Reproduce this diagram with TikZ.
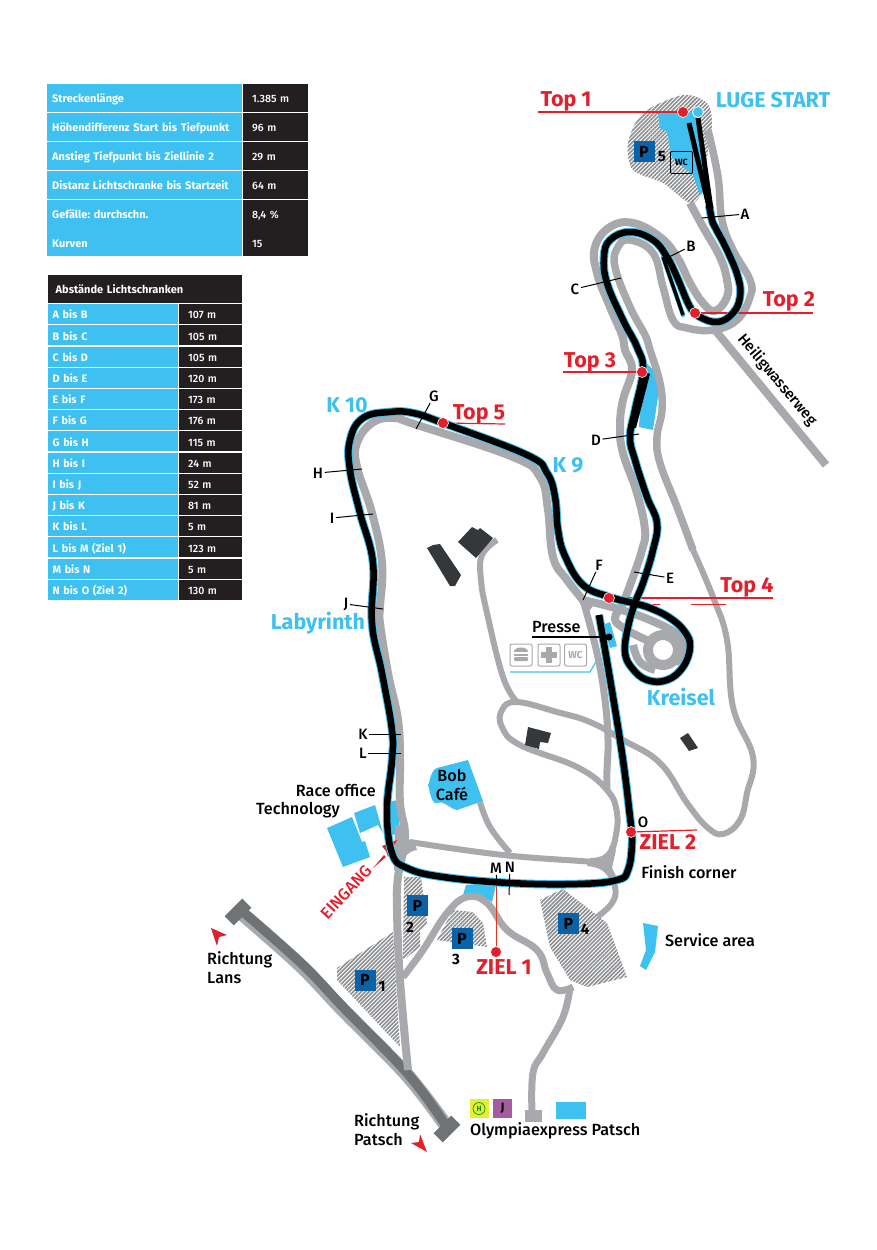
\documentclass[tikz,border=0pt]{standalone}
\usepackage{fontspec}
\usetikzlibrary{patterns.meta}
\setmainfont{Fira Sans}
\newfontfamily\medfont{Fira Sans Medium}
\newlength{\du}
\setlength{\du}{1pt}
\definecolor{lugeblue}{HTML}{3EC1F0}
\definecolor{tabblack}{HTML}{231F20}
\definecolor{roadgrey}{HTML}{A7A9AC}
\definecolor{hatchgrey}{HTML}{8A8C8F}
\definecolor{darkhouse}{HTML}{35383A}
\definecolor{highway}{HTML}{6F7375}
\definecolor{signred}{HTML}{E2202C}
\definecolor{parkblue}{HTML}{0A62A9}
\definecolor{trainpurple}{HTML}{A65AA0}
\definecolor{busyellow}{HTML}{E9EC36}
\tikzset{
  road/.style={draw=roadgrey,line width=8\du,line join=round},
  sideroad/.style={draw=roadgrey,line width=6\du,line join=round},
  hatched/.style={pattern={Lines[angle=45,distance=2.8pt,line width=1.6pt]},pattern color=hatchgrey},
  bluezone/.style={fill=lugeblue},
  house/.style={fill=darkhouse},
  leader/.style={draw=black,line width=1\du},
  redline/.style={draw=signred,line width=2.4\du},
  reddot/.style={circle,fill=signred,draw=white,line width=.6\du,minimum size=11\du,inner sep=0pt},
  cellname/.style={fill=lugeblue,text=white,anchor=north west,font=\fontsize{11}{12}\selectfont\bfseries,inner xsep=5\du,inner ysep=0pt,text width=185\du,minimum height=28\du,text height=10\du,text depth=.5\du},
  cellval/.style={fill=tabblack,text=white,anchor=north west,font=\fontsize{10.6}{12}\selectfont\medfont,inner xsep=9\du,inner ysep=0pt,text width=47\du,minimum height=28\du,text height=10\du,text depth=.5\du},
  gapname/.style={cellname,text width=120.5\du,minimum height=20\du,inner xsep=5\du,font=\fontsize{10.8}{12}\selectfont\bfseries},
  gapval/.style={cellval,text width=45\du,minimum height=20\du},
  redtext/.style={text=signred,font=\fontsize{21.5}{23}\selectfont\bfseries,inner sep=1\du},
  bluetext/.style={text=lugeblue,font=\fontsize{21.5}{23}\selectfont\bfseries,inner sep=1\du},
  letter/.style={text=black,font=\fontsize{15}{17}\selectfont\medfont,inner sep=1.5\du},
  plain/.style={text=black,font=\fontsize{16.2}{19}\selectfont\medfont,inner sep=0pt},
  parknum/.style={text=black,font=\fontsize{15}{17}\selectfont\bfseries,inner sep=0pt},
  parking/.style={fill=parkblue,text=black,minimum size=21\du,inner sep=0pt,font=\fontsize{16}{18}\selectfont\bfseries},
  sideicon/.style={draw=roadgrey,line width=1\du,rounded corners=2\du,minimum size=22\du,inner sep=0pt,text=roadgrey,font=\fontsize{10}{12}\selectfont\bfseries},
  stub/.style={fill=highway,rotate=45,minimum width=25\du,minimum height=13\du,inner sep=0pt},
}
\begin{document}
\begin{tikzpicture}[x=\du,y=-\du]
\useasboundingbox (0,0) rectangle (877,1250);
% tables
\node[cellname] (lena) at (47,84) {Streckenlänge};
\node[cellval] (vala) at (243,84) {1.385 m};
\node[cellname] (lenb) at (47,112.8) {Höhendifferenz Start bis Tiefpunkt};
\node[cellval] (valb) at (243,112.8) {96 m};
\node[cellname] (lenc) at (47,141.7) {Anstieg Tiefpunkt bis Ziellinie 2};
\node[cellval] (valc) at (243,141.7) {29 m};
\node[cellname] (lend) at (47,170.5) {Distanz Lichtschranke bis Startzeit};
\node[cellval] (vald) at (243,170.5) {64 m};
\node[cellname] (lene) at (47,199.3) {Gefälle:\ durchschn.};
\node[cellval] (vale) at (243,199.3) {8,4 \%};
\node[cellname] (lenf) at (47,228.2) {Kurven};
\node[cellval] (valf) at (243,228.2) {15};
\node[cellname,fill=tabblack,text width=178.5\du,inner xsep=8\du,minimum height=28\du] (gaphead) at (47.5,275) {Abstände Lichtschranken};
\node[gapname] (gapa) at (47.5,304) {A bis B};
\node[gapval] (gapva) at (179,304) {107 m};
\node[gapname] (gapb) at (47.5,325.2) {B bis C};
\node[gapval] (gapvb) at (179,325.2) {105 m};
\node[gapname] (gapc) at (47.5,346.4) {C bis D};
\node[gapval] (gapvc) at (179,346.4) {105 m};
\node[gapname] (gapd) at (47.5,367.6) {D bis E};
\node[gapval] (gapvd) at (179,367.6) {120 m};
\node[gapname] (gape) at (47.5,388.8) {E bis F};
\node[gapval] (gapve) at (179,388.8) {173 m};
\node[gapname] (gapf) at (47.5,410) {F bis G};
\node[gapval] (gapvf) at (179,410) {176 m};
\node[gapname] (gapg) at (47.5,431.2) {G bis H};
\node[gapval] (gapvg) at (179,431.2) {115 m};
\node[gapname] (gaph) at (47.5,452.4) {H bis I};
\node[gapval] (gapvh) at (179,452.4) {24 m};
\node[gapname] (gapi) at (47.5,473.6) {I bis J};
\node[gapval] (gapvi) at (179,473.6) {52 m};
\node[gapname] (gapj) at (47.5,494.8) {J bis K};
\node[gapval] (gapvj) at (179,494.8) {81 m};
\node[gapname] (gapk) at (47.5,516) {K bis L};
\node[gapval] (gapvk) at (179,516) {5 m};
\node[gapname] (gapl) at (47.5,537.2) {L bis M (Ziel 1)};
\node[gapval] (gapvl) at (179,537.2) {123 m};
\node[gapname] (gapm) at (47.5,558.4) {M bis N};
\node[gapval] (gapvm) at (179,558.4) {5 m};
\node[gapname] (gapn) at (47.5,579.6) {N bis O (Ziel 2)};
\node[gapval] (gapvn) at (179,579.6) {130 m};
% parking areas
\fill[hatched] plot[smooth cycle,tension=.5] coordinates {(683,95) (707,103) (712,123) (708,150) (703,190) (690,203) (663,183) (633,170) (628,143) (643,113)};
\fill[hatched] (393,932)--(337,968)--(337,980)--(400,1047)--(396,985)--cycle;
\fill[hatched] (404,877)--(421,877)--(427,923)--(420,930)--(420,947)--(403,960)--cycle;
\fill[hatched] (453,910)--(473,912)--(483,923)--(487,947)--(437,940)--cycle;
\fill[hatched] (540,900)--(563,889)--(607,923)--(627,977)--(587,987)--(570,980)--(550,947)--cycle;
% blue zones
\fill[bluezone] (658,113)--(700,112)--(705,190)--(700,195)--(693,175)--(672,158)--(667,132)--(660,128)--cycle;
\fill[bluezone] (643,360)--(661,377)--(653,430)--(639,427)--cycle;
\fill[bluezone] (603,625)--(610,622)--(617,646)--(610,648)--cycle;
\fill[bluezone] (466,885)--(496,885)--(492,902)--(480,895)--(463,895)--cycle;
\fill[bluezone] (468,760)--(483,801)--(457,810) to[out=170,in=20] (437,803) to[out=200,in=90] (428,785) to[out=-90,in=190] (437,768)--cycle;
\fill[bluezone] (327,828)--(352,817)--(362,842)--(365,841)--(370,857)--(343,867)--cycle;
\fill[bluezone] (354,813)--(375,805)--(383,833)--(378,825)--(360,833)--cycle;
\fill[bluezone] (388,802)--(398,800)--(400,834)--(390,835)--cycle;
\fill[bluezone] (643,923)--(658,926)--(655,952)--(646,970)--(640,966)--(646,950)--cycle;
\fill[bluezone] (556,1102) rectangle (586,1119);
\draw[lugeblue,line width=1.2\du] (510,672)--(590,672)--(597,660);
% highway
\draw[roadgrey,line width=14\du] plot[smooth,tension=.6] coordinates {(240,912) (300,965) (343,1010) (407,1075) (447,1127)};
\draw[highway,line width=9.5\du] plot[smooth,tension=.6] coordinates {(241.5,910.5) (301.5,963.5) (344.5,1008.5) (408,1074) (447,1127)};
\node[stub] (laneend) at (238,912) {};
\node[stub] (patschend) at (447,1129) {};
% roads
\fill[roadgrey] (401,825) .. controls (403,835) and (407,840) .. (414,841) -- (417,850) .. controls (408,851) and (402,858) .. (400,870) -- (394,870) -- (395,825) -- cycle;
\fill[roadgrey] (590,858) .. controls (600,858) and (608,855) .. (610,845) -- (616,850) -- (612,868) -- (618,880) -- (610,880) .. controls (605,870) and (598,867) .. (587,866) -- cycle;
\fill[roadgrey] (573,590)--(596,602)--(586,615)--cycle;
\draw[road] plot[smooth,tension=.7] coordinates {(690,203) (703,227) (720,257) (727,280) (727,297) (715,311) (703,303) (690,283) (677,257) (660,237) (633,223) (610,227) (595,247) (597,273) (610,307) (622,335) (625,350) (632,370) (623,400) (620,427) (623,453) (637,493) (645,530) (642,550) (633,577) (623,603) (615,618) (622,627) (640,637) (652,642)};
\draw[road,line width=7.5\du] plot[smooth,tension=.7] coordinates {(708,130) (718,177) (722,220) (733,250) (750,280) (750,297) (737,320) (713,330) (687,328) (673,320) (663,287) (653,253) (630,240) (618,247) (615,267) (630,307) (645,335) (650,350) (660,383) (662,410) (657,437) (660,463) (677,507) (693,550)};
\draw[sideroad] plot[smooth,tension=.7] coordinates {(693,550) (713,597) (727,640) (733,707) (753,757) (747,793) (740,820) (723,834) (707,827) (687,803) (660,763) (623,740) (590,722) (557,712) (517,702) (502,710) (502,727) (520,745) (577,767) (607,790) (617,813) (615,840) (608,860)};
\draw[road] plot[smooth,tension=.7] coordinates {(583,600) (567,580) (553,557) (548,510) (540,477) (513,457) (417,425) (393,418) (372,423) (357,443) (357,467) (372,513) (382,563) (380,607) (380,623) (388,673) (398,720) (400,760) (400,803) (405,837) (398,877) (397,910) (400,980) (408,1070)};
\draw[sideroad,line width=7\du] plot[smooth,tension=.7] coordinates {(583,600) (597,653) (605,700) (608,740) (607,770) (607,790)};
\draw[sideroad] plot[smooth,tension=.7] coordinates {(410,842) (503,855) (593,862) (605,865) (615,887) (612,903) (597,917)};
\draw[road] plot[smooth,tension=.7] coordinates {(583,600) (615,608) (650,620) (678,635) (684,650) (675,663)};
\draw[road,line width=10\du] (663,650) circle (15);
\draw[road] plot[smooth,tension=.7] coordinates {(633,645) (640,662) (655,670)};
\draw[sideroad] plot[smooth,tension=.7] coordinates {(497,540) (482,555) (481,580) (487,613) (503,677) (517,702)};
\draw[sideroad] plot[smooth,tension=.7] coordinates {(480,802) (490,827) (510,853)};
\draw[sideroad,line width=7\du] plot[smooth,tension=.7] coordinates {(403,977) (423,950) (447,913) (467,897) (487,903) (507,930) (537,950) (547,973) (557,990) (573,987)};
\draw[sideroad,line width=7\du] plot[smooth,tension=.7] coordinates {(570,987) (563,1017) (543,1053) (533,1073) (532,1113)};
\draw[road] (715,330)--(826,465);
\fill[roadgrey] (525,1110) rectangle (542,1122);
% houses
\fill[house] (427,548)--(433,545)--(440,544)--(461,575)--(455,586)--(450,586)--cycle;
\fill[house] (458,542)--(472,527)--(478,530)--(480,528)--(493,538)--(476,558)--cycle;
\fill[house] (528,727)--(551,733)--(548,743)--(540,742)--(539,749)--(525,745)--cycle;
\fill[house] (688,733)--(698,748)--(689,751)--(680,738)--cycle;
% red markers, under the track
\coordinate (topone) at (683,112);
\coordinate (toponeend) at (538,112);
\coordinate (toptwo) at (695,313);
\coordinate (toptwoend) at (813,313);
\coordinate (topthree) at (642,372);
\coordinate (topthreeend) at (563,372);
\coordinate (topfour) at (609,598);
\coordinate (topfourend) at (773,598);
\coordinate (topfive) at (443,423);
\coordinate (topfiveend) at (505,424);
\coordinate (zielone) at (496,952);
\coordinate (zielonetop) at (496,875);
\coordinate (zieltwo) at (631,832);
\coordinate (zieltwoend) at (697,830);
\draw[redline] (topone) -- (toponeend);
\draw[redline] (toptwo) -- (toptwoend);
\draw[redline] (topthree) -- (topthreeend);
\draw[redline] (topfour) -- (topfourend);
\draw[signred,line width=1\du] (637,604) -- (660,604);
\draw[signred,line width=1\du] (691,604) -- (726,604);
\draw[redline,line width=1.2\du] (topfive) -- (topfiveend);
\draw[signred!80!orange,line width=1\du] (zielone) -- (zielonetop);
\draw[redline,line width=1.2\du] (zieltwo) -- (zieltwoend);
\fill[signred] (373,868)--(384,855)--(386,857)--cycle;
\fill[signred] (382,846)--(397,840)--(388,857)--(386,851)--cycle;
% track
\draw[lugeblue,line width=4.5\du,line cap=round] (663,257)--(683,315);
\draw[lugeblue,line width=8.5\du,line join=round] plot[smooth,tension=.7] coordinates {(709,205) (712,220) (715,227) (727,250) (738,277) (740,297) (733,313) (718,322) (700,317) (690,307) (677,277) (667,257) (653,240) (630,232) (610,240) (604,257) (607,283) (623,320) (637,347) (643,370) (635,410) (630,437) (635,460) (647,497) (657,523) (653,550) (643,583) (635,603) (628,627) (625,652) (632,668) (647,680) (667,680) (683,667) (690,647) (685,632) (670,618) (650,608) (633,603) (610,597) (583,585) (565,556) (558,530) (555,497) (547,473) (527,455) (443,423) (413,413) (390,412) (363,418) (350,440) (350,470) (360,513) (373,563) (372,623) (382,673) (392,730) (392,760) (387,810) (392,853) (407,868) (443,877) (510,883) (577,884) (617,880) (628,870) (632,843) (630,817) (620,740) (599,615)};
\draw[black,line width=6.5\du,line join=round] plot[smooth,tension=.7] coordinates {(709,205) (712,220) (715,227) (727,250) (738,277) (740,297) (733,313) (718,322) (700,317) (690,307) (677,277) (667,257) (653,240) (630,232) (610,240) (604,257) (607,283) (623,320) (637,347) (643,370) (635,410) (630,437) (635,460) (647,497) (657,523) (653,550) (643,583) (635,603) (628,627) (625,652) (632,668) (647,680) (667,680) (683,667) (690,647) (685,632) (670,618) (650,608) (633,603) (610,597) (583,585) (565,556) (558,530) (555,497) (547,473) (527,455) (443,423) (413,413) (390,412) (363,418) (350,440) (350,470) (360,513) (373,563) (372,623) (382,673) (392,730) (392,760) (387,810) (392,853) (407,868) (443,877) (510,883) (577,884) (617,880) (628,870) (632,843) (630,817) (620,740) (599,615)};
\draw[black,line width=5\du] (689,123)--(709,207);
\draw[black,line width=5\du] (698,118)--(711,209);
\draw[black,line width=3.5\du] (663,257)--(683,315);
\fill[black] (645,372)--(650,374)--(636,428)--(630,428)--cycle;
\node[reddot] (dotone) at (topone) {};
\node[circle,fill=lugeblue,draw=white,line width=.8\du,minimum size=11\du,inner sep=0pt] (startdot) at (698,112) {};
\node[reddot] (dottwo) at (toptwo) {};
\node[reddot] (dotthree) at (topthree) {};
\node[reddot] (dotfour) at (topfour) {};
\node[reddot] (dotfive) at (topfive) {};
\node[reddot] (dotziela) at (zielone) {};
\node[reddot] (dotzielb) at (zieltwo) {};
\node[circle,fill=black,minimum size=7\du,inner sep=0pt] (pressedot) at (609,637) {};
% red and blue texts
\node[redtext] (lbltopa) at (566,101) {Top 1};
\node[redtext] (lbltopb) at (789,301) {Top 2};
\node[redtext] (lbltopc) at (590,362) {Top 3};
\node[redtext] (lbltopd) at (747,587) {Top 4};
\node[redtext] (lbltope) at (479,414) {Top 5};
\node[redtext] (lblziela) at (504,967) {ZIEL 1};
\node[redtext] (lblzielb) at (668,842) {ZIEL 2};
\node[redtext,rotate=47,font=\fontsize{16.5}{18}\selectfont\medfont] (lbleingang) at (346,892) {EINGANG};
\node[bluetext] (lblstart) at (773,100) {LUGE START};
\node[bluetext] (lblkten) at (347,405) {K 10};
\node[bluetext] (lblknine) at (568,465) {K 9};
\node[bluetext] (lbllaby) at (318,623) {Labyrinth};
\node[bluetext] (lblkreisel) at (681,697) {Kreisel};
% letters and their lines
\node[letter] (lbla) at (745,214) {A};
\coordinate (pta) at (702,218);
\draw[leader] (lbla) -- (pta);
\node[letter] (lblb) at (691,246) {B};
\coordinate (ptb) at (667,258);
\draw[leader] (lblb) -- (ptb);
\node[letter] (lblc) at (575,289) {C};
\coordinate (ptc) at (621,278);
\draw[leader] (lblc) -- (ptc);
\node[letter] (lbld) at (596,440) {D};
\coordinate (ptd) at (639,434);
\draw[leader] (lbld) -- (ptd);
\node[letter] (lble) at (670,578) {E};
\coordinate (pte) at (634,572);
\draw[leader] (lble) -- (pte);
\node[letter] (lblf) at (599,565) {F};
\coordinate (ptf) at (583,600);
\draw[leader] (lblf) -- (ptf);
\node[letter] (lblg) at (434,396) {G};
\coordinate (ptg) at (416,429);
\draw[leader] (lblg) -- (ptg);
\node[letter] (lblh) at (318,473) {H};
\coordinate (pth) at (362,469);
\draw[leader] (lblh) -- (pth);
\node[letter] (lbli) at (332,518) {I};
\coordinate (pti) at (373,514);
\draw[leader] (lbli) -- (pti);
\node[letter] (lblj) at (346,604) {J};
\coordinate (ptj) at (383,609);
\draw[leader] (lblj) -- (ptj);
\node[letter] (lblk) at (363,734) {K};
\coordinate (ptk) at (401,734);
\draw[leader] (lblk) -- (ptk);
\node[letter] (lbll) at (363,753) {L};
\coordinate (ptl) at (401,753);
\draw[leader] (lbll) -- (ptl);
\node[letter] (lblm) at (496,868) {M};
\coordinate (ptm) at (497,885);
\draw[leader] (lblm) -- (ptm);
\node[letter] (lbln) at (510,867) {N};
\coordinate (ptn) at (509,895);
\draw[leader] (lbln) -- (ptn);
\node[letter] (lblo) at (643,822) {O};
% black texts
\node[plain,anchor=west] (lblpresse) at (532,627) {Presse};
\coordinate (presseline) at (532,637);
\draw[black,line width=1.4\du] (pressedot) -- (presseline);
\node[plain,align=center] (lblbob) at (452,785) {Bob\\Café};
\node[plain,anchor=east] (lblrace) at (376,790) {Race office};
\node[plain,anchor=west] (lbltech) at (256,810) {Technology};
\node[plain] (lblfinish) at (689,872) {Finish corner};
\node[plain] (lblservice) at (710,940) {Service area};
\node[plain,anchor=west,align=left] (lbllans) at (207,968) {Richtung\\Lans};
\node[plain,anchor=west,align=left] (lblpatsch) at (354,1130) {Richtung\\Patsch};
\node[plain,anchor=west] (lblolympia) at (470,1131) {Olympiaexpress Patsch};
\node[plain,rotate=-50,font=\fontsize{15}{17}\selectfont\medfont] (lblweg) at (777,380) {Heiligwasserweg};
% direction arrows
\fill[signred] (211,928)--(227,935)--(219,937)--(217,946)--cycle;
\fill[signred] (427,1152)--(411,1143)--(419,1142)--(420,1134)--cycle;
% parking signs
\node[parking] (parka) at (365,980) {P};
\node[parknum] (parkna) at (382,986) {1};
\node[parking] (parkb) at (417.5,905.5) {P};
\node[parknum] (parknb) at (410,927) {2};
\node[parking] (parkc) at (462,938.5) {P};
\node[parknum] (parknc) at (456,959) {3};
\node[parking] (parkd) at (568.5,923.5) {P};
\node[parknum] (parknd) at (585,929) {4};
\node[parking] (parke) at (644,151.5) {P};
\node[parknum] (parkne) at (662,157) {5};
\node[draw=black,line width=.8\du,rounded corners=1\du,minimum size=22\du,inner sep=0pt,font=\fontsize{9}{10}\selectfont\bfseries] (wctop) at (681.5,162.5) {WC};
% service icons
\node[sideicon] (iconfood) at (521,655) {};
\fill[roadgrey] (514,652) .. controls (514,646) and (528,646) .. (528,652) -- cycle;
\draw[roadgrey,line width=1.5\du] (514,655)--(528,655);
\fill[roadgrey,rounded corners=1\du] (514,657) rectangle (528,661);
\node[sideicon] (iconaid) at (549,655) {};
\draw[roadgrey,line width=5.5\du] (541,655)--(557,655) (549,647)--(549,663);
\node[sideicon] (iconwc) at (575.5,655) {WC};
% bus and train
\node[fill=busyellow,minimum size=19\du,inner sep=0pt] (busbox) at (479,1108.5) {};
\node[circle,draw=green!60!black,line width=.7\du,text=green!60!black,minimum size=12\du,inner sep=0pt,font=\fontsize{7.5}{8}\selectfont\bfseries] (bushalt) at (479,1108.5) {H};
\node[fill=trainpurple,minimum size=19\du,inner sep=0pt,font=\fontsize{12}{13}\selectfont\bfseries] (trainbox) at (502.5,1108.5) {J};
\end{tikzpicture}
\end{document}
